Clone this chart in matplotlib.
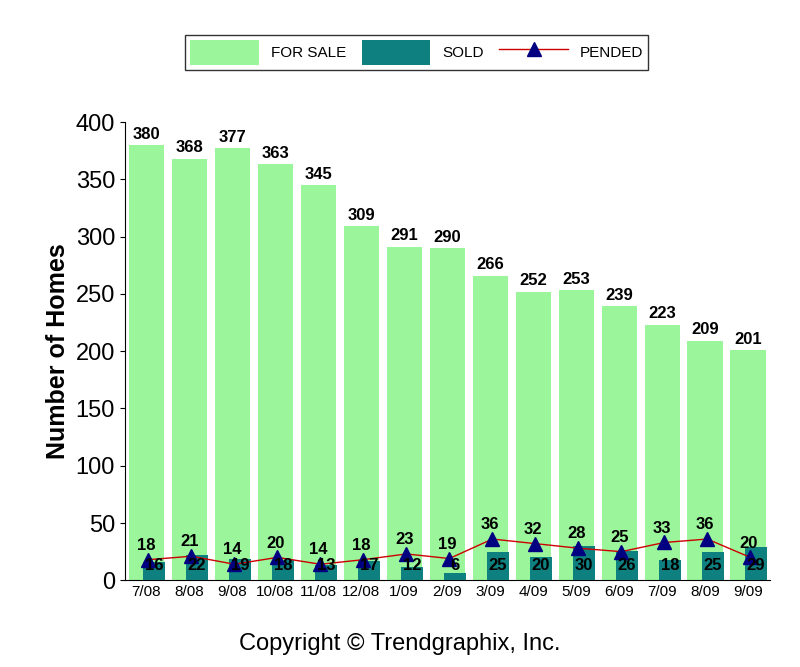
import matplotlib.pyplot as plt
import numpy as np

plt.rcParams['font.family'] = 'Liberation Sans'

months = ['7/08', '8/08', '9/08', '10/08', '11/08', '12/08', '1/09', '2/09',
          '3/09', '4/09', '5/09', '6/09', '7/09', '8/09', '9/09']
for_sale = [380, 368, 377, 363, 345, 309, 291, 290, 266, 252, 253, 239, 223, 209, 201]
sold = [16, 22, 19, 18, 13, 17, 12, 6, 25, 20, 30, 26, 18, 25, 29]
pended = [18, 21, 14, 20, 14, 18, 23, 19, 36, 32, 28, 25, 33, 36, 20]

fig = plt.figure(figsize=(8, 6.67), dpi=100)
ax = fig.add_axes([0.156, 0.13, 0.806, 0.687])
x = np.arange(len(months))

b1 = ax.bar(x, for_sale, width=0.82, color='#9af59b', label='FOR SALE', zorder=2)
b2 = ax.bar(x + 0.18, sold, width=0.5, color='#0f8080', label='SOLD', zorder=3)
l1, = ax.plot(x + 0.05, pended, color='#cc0000', lw=1, marker='^', markersize=10,
              markerfacecolor='#000080', markeredgecolor='#000080', label='PENDED', zorder=4)

for i in x:
    ax.text(i, for_sale[i] + 3, str(for_sale[i]), ha='center', va='bottom',
            fontsize=12, fontweight='bold')
    ax.text(i + 0.18, 13, str(sold[i]),
            ha='center', va='center', fontsize=12, fontweight='bold', zorder=5)
    ax.text(i, pended[i] + 6, str(pended[i]), ha='center', va='bottom',
            fontsize=12, fontweight='bold', zorder=5)

ax.set_xlim(-0.5, len(months) - 0.5)
ax.set_ylim(0, 400)
ax.set_yticks(range(0, 401, 50))
ax.set_xticks(x)
ax.set_xticklabels(months, fontsize=11)
ax.tick_params(axis='y', labelsize=17)
ax.tick_params(axis='x', length=0)
ax.set_ylabel('Number of Homes', fontsize=18, fontweight='bold')
for s in ['top', 'right']:
    ax.spines[s].set_visible(False)

fig.legend(handles=[b1, b2, l1], loc='center', bbox_to_anchor=(0.521, 0.921),
           ncol=3, fancybox=False, edgecolor='black', fontsize=11,
           handlelength=4.5, handleheight=2.2, columnspacing=1.0, borderpad=0.3)
fig.text(0.5, 0.025, 'Copyright © Trendgraphix, Inc.', ha='center', fontsize=17)

fig.savefig('out.png')
